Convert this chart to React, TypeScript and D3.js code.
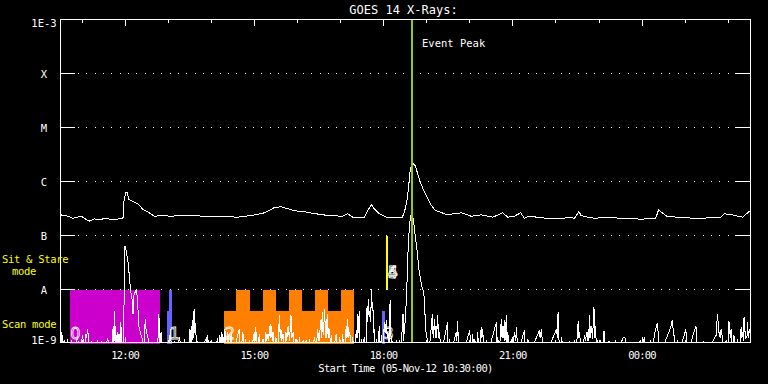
import React from "react";
import * as d3 from "d3";

const W = 768;
const H = 384;
const TITLE = "GOES 14 X-Rays:";
const X_TITLE = "Start Time (05-Nov-12 10:30:00)";
const SPAN_MIN = 961; // minutes after 10:30 covered by the plot
const EVENT_LABEL = "Event Peak";
const eventPeakMinute = 489;

const xTickMinutes = [90, 270, 450, 630, 810];
const xTickLabels = ["12:00", "15:00", "18:00", "21:00", "00:00"];
const hourTickMinutes = [30, 90, 150, 210, 270, 330, 390, 450, 510, 570, 630, 690, 750, 810, 870, 930];

const yTickValues = [1e-9, 1e-8, 1e-7, 1e-6, 1e-5, 1e-4, 1e-3];
const yTickLabels = ["1E-9", "A", "B", "C", "M", "X", "1E-3"];
const modeBandLabels = ["Sit & Stare", "mode", "Scan mode"];

// long channel (1-8 A): [minutes after 10:30, log10 flux W/m^2]
const longChannel: [number, number][] = [
  [0, -6.617], [10, -6.643], [17, -6.68], [24, -6.661], [29, -6.643], [33, -6.68], [40, -6.735],
  [47, -6.691], [54, -6.709], [63, -6.68], [73, -6.709], [82, -6.691], [87, -6.691], [88, -6.383],
  [91, -6.198], [93, -6.209], [95, -6.333], [101, -6.37], [108, -6.413], [115, -6.519], [122, -6.569],
  [131, -6.643], [140, -6.63], [154, -6.643], [168, -6.63], [187, -6.63], [201, -6.648], [215, -6.643],
  [229, -6.648], [247, -6.661], [258, -6.643], [272, -6.617], [282, -6.587], [291, -6.537], [298, -6.481],
  [307, -6.469], [317, -6.506], [326, -6.543], [338, -6.556], [351, -6.587], [365, -6.617], [379, -6.635],
  [393, -6.643], [400, -6.598], [407, -6.661], [416, -6.661], [423, -6.661], [428, -6.537], [433, -6.431],
  [437, -6.506], [444, -6.598], [456, -6.672], [468, -6.672], [476, -6.661], [479, -6.569], [483, -6.32],
  [485, -6.074], [487, -5.796], [490, -5.654], [494, -5.704], [501, -6.013], [508, -6.228], [515, -6.413],
  [522, -6.537], [529, -6.569], [538, -6.611], [548, -6.598], [558, -6.58], [572, -6.643], [586, -6.617],
  [602, -6.661], [616, -6.58], [623, -6.661], [632, -6.643], [641, -6.58], [646, -6.68], [653, -6.643],
  [670, -6.672], [684, -6.691], [698, -6.691], [707, -6.661], [716, -6.68], [722, -6.556], [725, -6.63],
  [735, -6.661], [744, -6.68], [752, -6.672], [766, -6.661], [785, -6.691], [799, -6.68], [808, -6.704],
  [820, -6.68], [829, -6.68], [833, -6.524], [838, -6.58], [845, -6.648], [859, -6.661], [873, -6.672],
  [892, -6.691], [906, -6.661], [920, -6.661], [924, -6.598], [934, -6.611], [943, -6.643], [950, -6.661],
  [957, -6.58], [961, -6.537],
];

// short channel (0.5-4 A): [minutes after 10:30, log10 flux W/m^2]; -9.2 is below the plotted range
const shortChannel: [number, number][] = [
  [0, -8.6], [1, -9.2], [2, -8.79], [3, -9.2], [5, -8.94], [7, -9.2], [10, -8.91], [12, -9.2], [15, -8.94],
  [17, -9.2], [24, -8.88], [26, -9.2], [31, -8.85], [33, -9.2], [35, -8.82], [36, -8.9], [38, -8.74],
  [40, -9.2], [43, -8.96], [45, -9.2], [52, -8.94], [54, -9.2], [57, -8.96], [59, -9.2], [66, -8.91],
  [68, -9.2], [72, -9.2], [73, -8.73], [74, -9.0], [75, -8.39], [76, -9.0], [77, -8.67], [78, -9.2],
  [80, -8.79], [81, -9.2], [82, -8.82], [83, -9.0], [84, -8.61], [86, -9.2], [88, -9.2], [89, -7.25],
  [90, -7.19], [91, -7.25], [94, -7.49], [95, -7.62], [97, -7.93], [98, -8.05], [100, -8.2], [101, -8.45],
  [102, -8.11], [104, -8.05], [106, -7.99], [107, -8.17], [108, -8.39], [109, -8.67], [111, -8.79],
  [114, -8.91], [116, -9.2], [118, -8.54], [119, -8.73], [122, -8.91], [124, -9.2], [135, -9.2],
  [137, -8.45], [139, -9.2], [140, -8.79], [142, -9.2], [151, -9.2], [153, -8.73], [155, -9.2],
  [159, -8.96], [161, -9.2], [166, -8.88], [168, -9.2], [173, -8.91], [175, -9.2], [179, -9.2],
  [180, -8.74], [181, -9.0], [182, -8.67], [183, -9.0], [184, -8.57], [185, -8.9], [186, -8.36],
  [187, -8.8], [188, -8.62], [190, -9.2], [191, -8.96], [193, -9.2], [203, -8.91], [204, -9.0],
  [205, -8.85], [207, -9.2], [209, -8.96], [211, -9.2], [219, -8.91], [220, -9.2], [222, -8.85],
  [223, -9.0], [224, -8.79], [225, -9.2], [226, -8.82], [228, -9.2], [229, -8.73], [231, -9.2],
  [233, -8.79], [235, -9.2], [238, -8.79], [240, -9.2],
  [249, -8.73], [251, -9.2], [254, -8.79], [256, -9.2], [258, -8.91], [260, -9.2], [263, -8.94],
  [265, -9.2], [270, -8.79], [271, -8.95], [272, -8.7], [274, -9.2], [277, -8.82], [279, -9.2],
  [282, -8.91], [284, -9.2], [286, -8.79], [287, -8.95], [289, -8.82], [290, -8.95], [291, -8.67],
  [292, -8.9], [293, -8.64], [295, -8.95], [296, -8.79], [298, -9.2], [300, -8.88], [302, -9.2],
  [305, -8.48], [306, -8.9], [307, -8.73], [308, -8.95], [310, -8.82], [312, -9.2], [314, -8.79],
  [315, -8.95], [317, -8.67], [319, -8.95], [321, -8.48], [322, -8.9], [324, -8.79], [326, -9.2],
  [328, -8.91], [330, -9.2], [333, -8.88], [335, -9.2], [338, -8.94], [340, -9.2], [342, -8.94],
  [344, -9.2], [347, -8.91], [349, -9.2], [354, -8.88], [356, -9.2], [358, -8.73], [360, -8.95],
  [363, -8.54], [364, -8.9], [365, -8.42], [366, -8.85], [368, -8.36], [369, -8.9], [370, -8.54],
  [371, -8.9], [372, -8.45], [373, -8.9], [375, -8.73], [376, -9.2], [377, -8.85], [379, -9.2],
  [384, -8.82], [386, -9.2], [389, -8.88], [391, -9.2], [393, -8.82], [395, -9.2], [398, -8.67],
  [399, -8.9], [400, -8.54], [401, -8.9], [403, -8.79], [405, -9.2], [407, -8.88], [409, -9.2],
  [412, -8.76], [413, -8.9], [414, -8.45], [415, -8.8], [416, -8.39], [417, -9.2], [419, -8.91],
  [421, -9.2], [423, -8.88], [425, -9.2], [427, -8.3], [428, -8.6], [429, -8.17], [430, -8.5],
  [431, -8.42], [432, -8.6], [433, -7.99], [434, -8.4], [435, -8.24], [436, -8.8], [437, -8.73],
  [438, -9.2], [440, -8.91], [442, -9.2], [444, -8.67], [445, -9.2], [447, -8.85], [449, -9.2],
  [451, -8.61], [452, -8.8], [454, -8.57], [455, -8.9], [456, -8.79], [458, -9.2], [459, -8.2],
  [461, -9.2], [463, -8.96], [465, -9.2], [468, -8.94], [470, -9.2], [472, -8.94], [474, -9.2],
  [477, -8.45], [478, -8.95], [479, -8.67], [480, -8.6], [482, -8.11], [484, -7.31], [486, -6.81],
  [488, -6.63], [490, -6.6], [492, -6.76], [494, -7.0], [497, -7.31], [499, -7.62], [502, -7.86],
  [504, -7.99], [506, -8.05], [508, -8.54], [509, -8.79], [511, -8.94], [513, -9.2],
  [518, -8.45], [519, -8.9], [521, -8.54], [522, -8.9], [523, -8.67], [524, -8.9], [525, -8.48],
  [527, -8.9], [528, -8.79], [530, -9.2], [539, -8.61], [540, -9.2], [542, -8.91], [544, -9.2],
  [551, -8.79], [552, -8.95], [553, -8.59], [555, -9.2], [558, -8.98], [560, -9.2], [570, -8.76],
  [572, -9.2], [574, -8.82], [576, -9.2], [577, -8.91], [579, -9.2], [581, -8.79], [583, -9.2],
  [586, -8.7], [587, -8.9], [588, -8.73], [590, -9.2], [593, -8.94], [595, -9.2], [607, -8.61],
  [608, -9.2], [609, -8.88], [611, -9.2], [614, -8.54], [615, -8.9], [616, -8.67], [617, -8.9],
  [618, -8.57], [619, -8.95], [621, -8.48], [622, -9.2], [623, -8.79], [625, -9.2], [628, -8.91],
  [630, -9.2], [632, -8.79], [634, -8.95], [635, -8.7], [637, -9.2], [646, -8.76], [648, -9.2],
  [651, -8.91], [653, -9.2], [667, -8.76], [668, -8.9], [670, -8.73], [672, -9.2], [674, -8.98],
  [676, -9.2], [691, -8.73], [692, -8.9], [693, -8.42], [695, -9.2], [698, -8.88], [700, -9.2],
  [709, -8.98], [711, -9.2], [716, -8.94], [718, -9.2], [721, -8.59], [722, -8.9], [723, -8.79],
  [725, -9.2], [730, -8.85], [731, -8.95], [733, -8.79], [734, -8.95], [735, -8.73], [736, -8.95],
  [737, -8.48], [738, -8.9], [740, -8.67], [741, -8.91], [743, -8.33], [744, -8.9], [745, -8.67],
  [747, -9.2], [748, -8.94], [750, -9.2], [752, -8.94], [754, -9.2], [757, -8.77], [759, -9.2],
  [764, -8.96], [766, -9.2], [773, -8.94], [775, -9.2], [783, -8.91], [785, -8.88], [787, -8.91],
  [789, -9.2], [808, -8.94], [810, -9.2], [813, -8.88], [815, -9.2], [822, -8.94], [824, -9.2],
  [827, -8.85], [829, -8.73], [831, -8.62], [833, -8.88], [835, -9.2], [850, -8.7], [852, -8.56],
  [854, -8.85], [855, -8.85], [857, -9.2], [859, -8.94], [861, -9.2], [871, -8.74], [873, -9.2],
  [885, -8.67], [887, -9.2], [896, -8.96], [898, -9.2], [913, -8.85], [915, -8.45], [917, -8.79],
  [919, -8.9], [920, -8.73], [922, -8.91], [924, -9.2], [927, -8.94], [929, -9.2], [931, -8.59],
  [933, -8.9], [934, -8.73], [936, -9.2], [938, -8.85], [940, -9.2], [943, -8.91], [945, -9.2],
  [948, -8.7], [949, -8.9], [950, -8.79], [951, -8.95], [952, -8.51], [954, -8.9], [955, -8.88],
  [956, -8.9], [957, -8.61], [958, -8.9], [959, -8.79], [961, -8.7],
];

// observing-mode blocks: start/end minute, bottom/top log10 level, mode index
const modeStart = [13, 148, 151, 228, 245, 282, 318, 354, 390, 448, 453];
const modeEnd = [138, 151, 155, 409, 264, 300, 337, 373, 409, 452, 456];
const modeBottom = [-9, -9, -9, -9, -9, -9, -9, -9, -9, -9, -8];
const modeTop = [-8, -8.39, -8, -8.39, -8, -8, -8, -8, -8, -8.39, -7];
const modeIndex = [0, 1, 1, 2, 2, 2, 2, 2, 2, 3, 4];
const modeColors = ["#cc00cc", "#6464ff", "#ff8000", "#6464ff", "#ffff00"];

const modeLabelText = ["0", "1", "2", "3", "4", "5"];
const modeLabelMinute = [13, 151, 228, 449, 455, 455];
const modeLabelLevel = [-9, -9, -9, -9, -8, -8];

const FONT = "'DejaVu Sans Mono', monospace";

export default function App() {
  const left = 60.5, right = 750.5, top = 19.5, bottom = 342.5;
  const x = d3.scaleLinear().domain([0, SPAN_MIN]).range([left, right]);
  const y = d3.scaleLog().domain([1e-9, 1e-3]).range([343.5, 19.5]);
  const ye = (e: number) => y(Math.pow(10, e));

  const line = d3
    .line<[number, number]>()
    .x((d) => x(d[0]))
    .y((d) => ye(d[1]));

  const ex = Math.round(x(eventPeakMinute));

  return (
    <svg
      width={W}
      height={H}
      style={{ position: "fixed", left: 0, top: 0, background: "#000", display: "block" }}
      fontFamily={FONT}
    >
      <rect x={0} y={0} width={W} height={H} fill="#000" />
      <defs>
        <clipPath id="plot">
          <rect x={left} y={top} width={right - left} height={bottom - top} />
        </clipPath>
      </defs>

      {/* mode blocks */}
      <g shapeRendering="crispEdges">
        {modeStart.map((s, i) => (
          <rect
            key={i}
            x={x(s)}
            width={x(modeEnd[i]) - x(s)}
            y={ye(modeTop[i])}
            height={ye(modeBottom[i]) - ye(modeTop[i])}
            fill={modeColors[modeIndex[i]]}
          />
        ))}
      </g>

      {/* grid lines */}
      <g stroke="#fff" strokeWidth={1} shapeRendering="crispEdges">
        {yTickValues.slice(1, -1).map((v, i) => (
          <g key={i}>
            <line x1={78} x2={734} y1={y(v)} y2={y(v)} strokeDasharray="1 7.33" />
            <line x1={left} x2={75} y1={y(v)} y2={y(v)} />
            <line x1={735} x2={right} y1={y(v)} y2={y(v)} />
          </g>
        ))}
      </g>

      {/* data */}
      <g clipPath="url(#plot)" fill="none" stroke="#fff" strokeWidth={1} shapeRendering="crispEdges">
        <path d={line(longChannel) || ""} />
        <path d={line(shortChannel) || ""} />
      </g>

      {/* mode labels (outlined digits) */}
      <g fill="none" stroke="#fff" strokeWidth={0.8} fontFamily="'DejaVu Sans', sans-serif" fontSize={16}>
        {modeLabelText.map((t, i) => (
          <text key={i} x={x(modeLabelMinute[i]) + 0.5} y={ye(modeLabelLevel[i]) - (modeLabelLevel[i] === -9 ? 5 : 11.5)}>
            {t}
          </text>
        ))}
      </g>

      {/* event peak */}
      <rect x={ex - 1} y={top} width={2} height={bottom - top} fill="#99cc00" shapeRendering="crispEdges" />
      <text x={ex + 10} y={43} fill="#fff" fontSize={10.5} dominantBaseline="central">
        {EVENT_LABEL}
      </text>

      {/* frame */}
      <g stroke="#fff" strokeWidth={1} fill="none" shapeRendering="crispEdges">
        <rect x={left} y={top} width={right - left} height={bottom - top} />
        {hourTickMinutes.map((m, i) => {
          const len = (m - 90) % 180 === 0 ? 6 : 3;
          return (
            <g key={i}>
              <line x1={x(m)} x2={x(m)} y1={top} y2={top + len} />
              <line x1={x(m)} x2={x(m)} y1={bottom} y2={bottom - len} />
            </g>
          );
        })}
      </g>

      {/* y labels */}
      <g fill="#fff" fontSize={10.5} textAnchor="middle">
        {yTickValues.map((v, i) => (
          <text
            key={i}
            x={44}
            y={y(v) + (i === yTickValues.length - 1 ? 3.5 : i === 0 ? -3.5 : 0)}
            dominantBaseline="central"
          >
            {yTickLabels[i]}
          </text>
        ))}
      </g>

      {/* x labels */}
      <g fill="#fff" fontSize={10.5} textAnchor="middle">
        {xTickMinutes.map((m, i) => (
          <text key={i} x={x(m)} y={355} dominantBaseline="central" letterSpacing={-0.8}>
            {xTickLabels[i]}
          </text>
        ))}
        <text x={(left + right) / 2} y={368} dominantBaseline="central" letterSpacing={-0.7}>
          {X_TITLE}
        </text>
      </g>

      {/* title */}
      <text x={(left + right) / 2 - 2} y={10} fill="#fff" fontSize={12} textAnchor="middle" dominantBaseline="central">
        {TITLE}
      </text>

      {/* mode band labels */}
      <g fill="#ffff00" fontSize={10.5} letterSpacing={-0.3}>
        <text x={2} y={259} dominantBaseline="central">{modeBandLabels[0]}</text>
        <text x={12} y={271} dominantBaseline="central">{modeBandLabels[1]}</text>
        <text x={2} y={324} dominantBaseline="central">{modeBandLabels[2]}</text>
      </g>
    </svg>
  );
}
